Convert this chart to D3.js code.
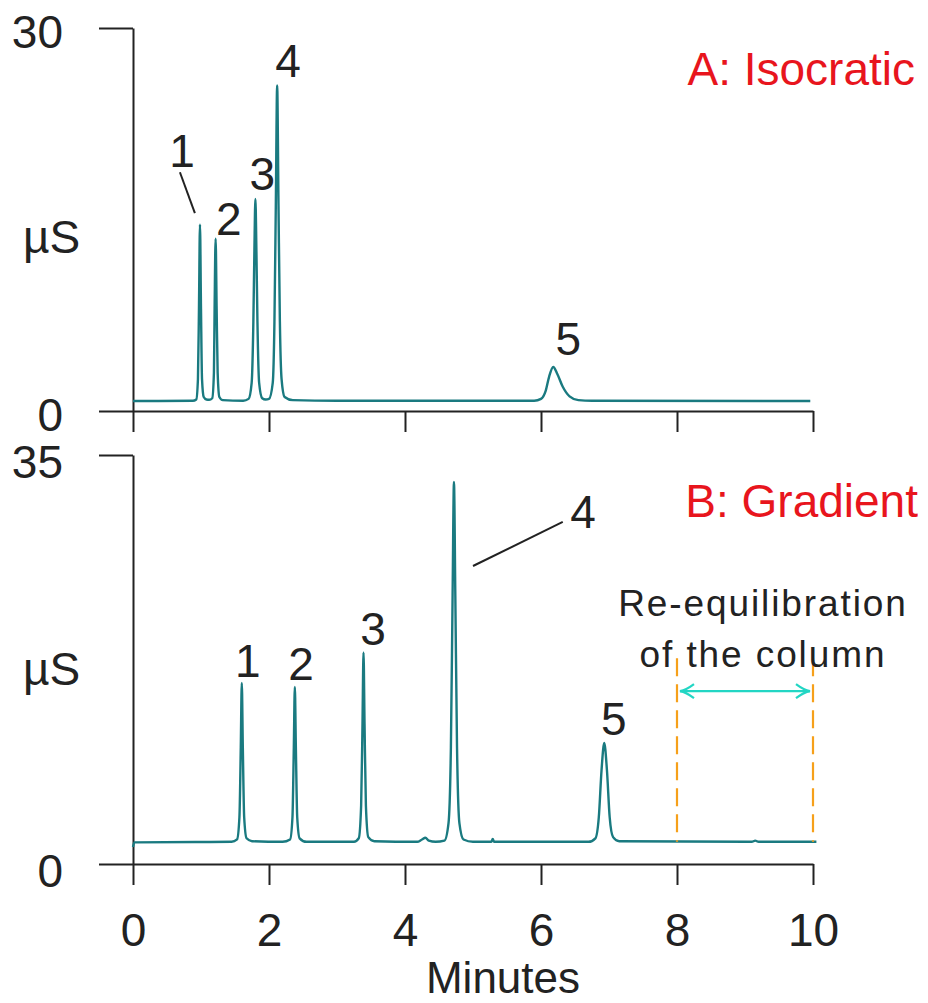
<!DOCTYPE html>
<html>
<head>
<meta charset="utf-8">
<script src="https://cdn.jsdelivr.net/npm/d3@7"></script>
<style>
  html, body { margin: 0; padding: 0; background: #fff; }
  svg { display: block; font-family: "Liberation Sans", Arial, sans-serif; }
</style>
</head>
<body>
<svg id="chart" width="928" height="1003"></svg>
<script>
// ---------------- DATA ----------------
// Panel A: isocratic trace (minutes, µS)
const timeA = [0, 0.88, 0.93, 0.955, 0.97, 0.985, 1.0, 1.015, 1.04, 1.08,
  1.12, 1.165, 1.19, 1.20, 1.215, 1.23, 1.245, 1.27, 1.32,
  1.62, 1.70, 1.745, 1.77, 1.785, 1.80, 1.815, 1.83, 1.855, 1.90, 1.95,
  2.0, 2.055, 2.08, 2.10, 2.12, 2.14, 2.16, 2.185, 2.23, 2.35,
  3.0, 5.0, 5.9, 6.0, 6.07, 6.12, 6.18, 6.24, 6.32, 6.42, 6.55, 6.75, 9.96];
const signalA = [0.78, 0.8, 0.9, 2.5, 8, 14.6, 8, 2.5, 1.1, 0.9,
  0.88, 1.0, 3, 8, 13.5, 8, 3, 1.1, 0.85,
  0.8, 0.95, 2.2, 7, 12.5, 16.6, 12.5, 7, 2.2, 1.0, 0.9,
  0.95, 2.2, 7, 16, 25.5, 16, 7, 2.5, 1.1, 0.85,
  0.8, 0.8, 0.8, 0.95, 1.6, 2.7, 3.45, 2.9, 1.9, 1.15, 0.85, 0.8, 0.78];

// Panel B: gradient trace (minutes, µS)
const timeB = [0, 0.02, 1.0, 1.45, 1.53, 1.565, 1.585, 1.60, 1.615, 1.635, 1.67, 1.75,
  2.2, 2.31, 2.345, 2.365, 2.38, 2.395, 2.415, 2.45, 2.55,
  3.25, 3.32, 3.355, 3.375, 3.39, 3.405, 3.425, 3.46, 3.55,
  4.18, 4.25, 4.30, 4.35, 4.45,
  4.58, 4.64, 4.675, 4.70, 4.72, 4.74, 4.765, 4.80, 4.86, 5.0,
  5.27, 5.29, 5.31,
  6.7, 6.8, 6.85, 6.89, 6.93, 6.97, 7.01, 7.06, 7.15,
  9.1, 9.15, 9.2, 10.05];
const signalB = [1.45, 1.85, 1.88, 1.9, 2.1, 4, 10, 15.5, 10, 4, 2.2, 1.95,
  1.9, 2.1, 4, 10, 15.15, 10, 4, 2.2, 1.9,
  1.9, 2.2, 5, 12, 18.1, 12, 5, 2.3, 1.95,
  1.9, 2.1, 2.25, 2.0, 1.9,
  2.0, 3.5, 10, 23, 32.7, 23, 10, 3.5, 2.1, 1.9,
  1.9, 2.15, 1.9,
  1.9, 2.2, 4, 8, 10.35, 8, 4, 2.3, 1.95,
  1.9, 2.0, 1.9, 1.9];

// Peak labels (text, minutes, µS)
const peakNames = ["1", "2", "3", "4", "5"];
const labelTimeA = [0.72, 1.41, 1.90, 2.28, 6.40];
const labelValA  = [19.1, 13.78, 17.3, 26.2, 4.39];
const labelTimeB = [1.69, 2.47, 3.53, 6.62, 7.07];
const labelValB  = [16.0, 15.75, 18.74, 28.75, 11.04];
// leader lines [t1, v1, t2, v2]
const leaderA = [0.69, 18.7, 0.91, 15.5];
const leaderB = [5.0, 25.5, 6.32, 29.27];

// Axes
const xTicks = [0, 2, 4, 6, 8, 10];
const yMaxA = 30, yMaxB = 35;
const yTicksA = [0, 30];
const yTicksB = [0, 35];
const xLabel = "Minutes";
const yLabel = "µS";
const titleA = "A: Isocratic";
const titleB = "B: Gradient";

// Re-equilibration window (minutes), bracket height (µS), arrow level (µS)
const reequilStart = 8, reequilEnd = 10;
const reequilTop = 17.6, reequilArrow = 14.8, reequilBase = 1.9;
const reequilText = ["Re-equilibration", "of the column"];

// ---------------- DRAW ----------------
const svg = d3.select("#chart");
const ink = "#222222";
const teal = "#1a7a80";
const red = "#e8151d";
const orange = "#f6a01a";
const cyan = "#22d6c4";
const FS = 46;

const x = d3.scaleLinear().domain([0, 10]).range([133, 813]);
const yA = d3.scaleLinear().domain([0, yMaxA]).range([411, 28]);
const yB = d3.scaleLinear().domain([0, yMaxB]).range([864, 455]);

function drawPanel(y, yTicks, times, vals, labT, labV, leader, showXLabels, yLabelBaseline, yShift) {
  const g = svg.append("g");

  // x axis
  const xa = g.append("g")
    .attr("transform", `translate(0,${y(0)})`)
    .call(d3.axisBottom(x).tickValues(xTicks).tickSize(21).tickSizeOuter(0).tickPadding(28)
      .tickFormat(showXLabels ? d3.format("d") : () => ""));
  xa.selectAll("path, line").attr("stroke", ink).attr("stroke-width", 2);
  xa.selectAll("text").attr("fill", ink).attr("font-size", FS).attr("font-family", "Liberation Sans, Arial, sans-serif");

  // y axis
  const ya = g.append("g")
    .attr("transform", `translate(${x(0)},0)`)
    .call(d3.axisLeft(y).tickValues(yTicks).tickSize(34).tickSizeOuter(0).tickPadding(36));
  ya.selectAll("path, line").attr("stroke", ink).attr("stroke-width", 2);
  ya.selectAll("text").attr("fill", ink).attr("font-size", FS).attr("y", yShift)
    .attr("font-family", "Liberation Sans, Arial, sans-serif");

  // y label
  g.append("text").attr("x", 23).attr("y", yLabelBaseline)
    .attr("font-size", FS).attr("fill", ink).text(yLabel);

  // trace
  const pts = times.map((t, i) => [t, vals[i]]);
  g.append("path").datum(pts)
    .attr("fill", "none").attr("stroke", teal).attr("stroke-width", 2.4)
    .attr("stroke-linejoin", "round")
    .attr("d", d3.line().x(d => x(d[0])).y(d => y(d[1])).curve(d3.curveMonotoneX));

  // peak labels
  g.selectAll("text.peak").data(peakNames).join("text").attr("class", "peak")
    .attr("x", (d, i) => x(labT[i])).attr("y", (d, i) => y(labV[i]))
    .attr("text-anchor", "middle").attr("font-size", FS).attr("fill", ink).text(d => d);

  // leader
  g.append("line")
    .attr("x1", x(leader[0])).attr("y1", y(leader[1]))
    .attr("x2", x(leader[2])).attr("y2", y(leader[3]))
    .attr("stroke", ink).attr("stroke-width", 2);
  return g;
}

drawPanel(yA, yTicksA, timeA, signalA, labelTimeA, labelValA, leaderA, false, 253, 5);
drawPanel(yB, yTicksB, timeB, signalB, labelTimeB, labelValB, leaderB, true, 685, 8);

// titles
svg.append("text").attr("x", 915).attr("y", 85).attr("text-anchor", "end")
  .attr("font-size", FS).attr("fill", red).text(titleA);
svg.append("text").attr("x", 918).attr("y", 517).attr("text-anchor", "end")
  .attr("font-size", FS).attr("fill", red).text(titleB);

// x label
svg.append("text").attr("x", 503).attr("y", 993).attr("text-anchor", "middle")
  .attr("font-size", 44).attr("fill", ink).text(xLabel);

// re-equilibration bracket
[reequilStart, reequilEnd].forEach(t => {
  svg.append("line")
    .attr("x1", x(t)).attr("x2", x(t))
    .attr("y1", yB(reequilTop)).attr("y2", yB(reequilBase))
    .attr("stroke", orange).attr("stroke-width", 2.2).attr("stroke-dasharray", "18,8");
});
const ay = yB(reequilArrow);
const ax1 = x(reequilStart) + 3, ax2 = x(reequilEnd) - 3;
svg.append("line").attr("x1", ax1).attr("x2", ax2).attr("y1", ay).attr("y2", ay)
  .attr("stroke", cyan).attr("stroke-width", 2.2);
svg.append("path")
  .attr("d", `M${ax1 + 14},${ay - 7} Q${ax1 + 6},${ay - 1} ${ax1},${ay} Q${ax1 + 6},${ay + 1} ${ax1 + 14},${ay + 7}`)
  .attr("fill", "none").attr("stroke", cyan).attr("stroke-width", 2.2);
svg.append("path")
  .attr("d", `M${ax2 - 14},${ay - 7} Q${ax2 - 6},${ay - 1} ${ax2},${ay} Q${ax2 - 6},${ay + 1} ${ax2 - 14},${ay + 7}`)
  .attr("fill", "none").attr("stroke", cyan).attr("stroke-width", 2.2);

svg.selectAll("text.reeq").data(reequilText).join("text").attr("class", "reeq")
  .attr("x", 763).attr("y", (d, i) => 616 + i * 51)
  .attr("text-anchor", "middle").attr("font-size", 37).attr("letter-spacing", 1.9)
  .attr("fill", ink).text(d => d);
</script>
</body>
</html>
